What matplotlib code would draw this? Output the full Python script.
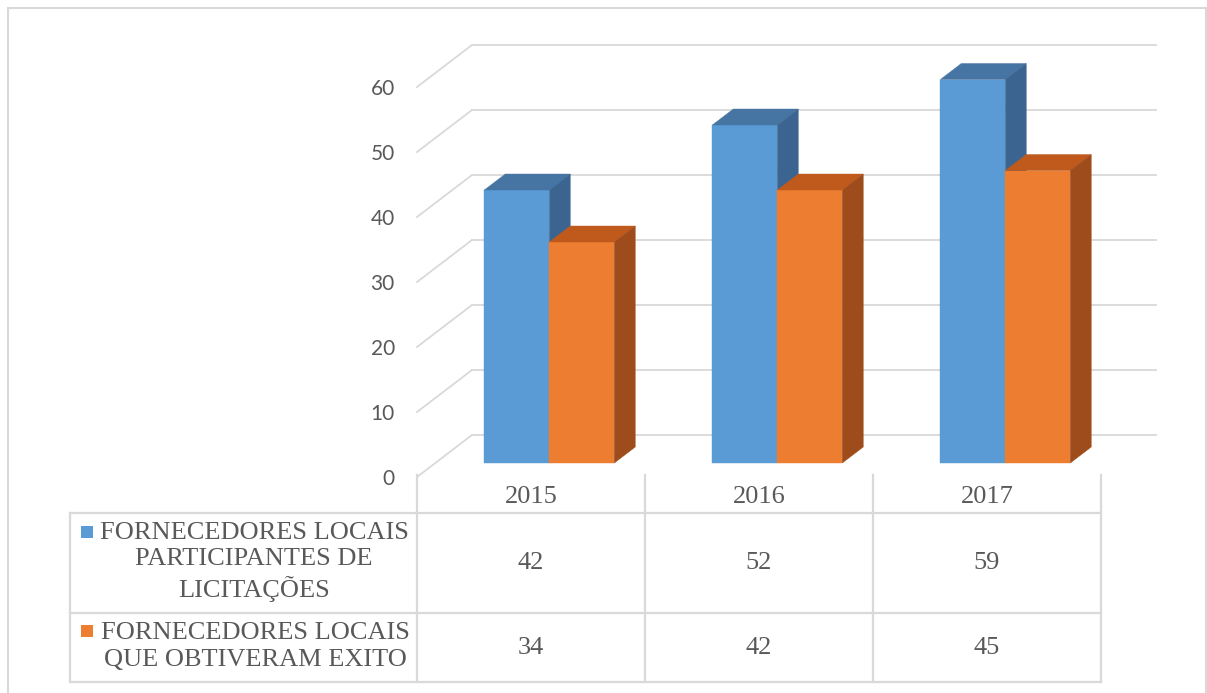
import numpy as np
import matplotlib.pyplot as plt
from matplotlib.patches import Polygon, Rectangle
from matplotlib.lines import Line2D

# dados
anos = ['2015', '2016', '2017']
participantes = [42, 52, 59]
exito = [34, 42, 45]
rotulos = ['FORNECEDORES LOCAIS\nPARTICIPANTES DE\nLICITAÇÕES',
           'FORNECEDORES LOCAIS\nQUE OBTIVERAM EXITO']
y_ticks = [0, 10, 20, 30, 40, 50, 60]

# cores (frente, topo, lado)
cores = [('#5B9BD5', '#4674A3', '#3B6590'),
         ('#ED7D31', '#BF5A1C', '#9E4C1B')]
cinza = '#D9D9D9'
texto = '#595959'

W, H = 1207, 693
fig = plt.figure(figsize=(W / 100, H / 100), dpi=100)

def fx(px):
    return px / W

def fy(py):
    return 1 - py / H

# eixo = plano frontal do grafico 3D
ax = fig.add_axes([fx(417), fy(477), 684 / W, 432 / H])
ax.set_xlim(0, 3)
ax.set_ylim(0, 432 / 6.5)
for s in ax.spines.values():
    s.set_visible(False)
ax.set_xticks([])
ax.set_yticks(y_ticks)
ax.tick_params(axis='y', length=0, pad=16, labelsize=15, labelcolor=texto)
for t in ax.get_yticklabels():
    t.set_family('Lato')

# profundidade (em unidades de dados)
DX = 55 / 228
DY = 42 / 6.5

# grade: parede do fundo + linhas diagonais
for v in y_ticks:
    ax.plot([0, DX], [v, v + DY], color=cinza, lw=1.3, clip_on=False, zorder=1)
    ax.plot([DX, 3 + DX], [v + DY, v + DY], color=cinza, lw=1.3, clip_on=False, zorder=1)

# barras 3D
w = 0.285
f1, f2 = 0.333, 0.714
ddx, ddy = (f2 - f1) * DX, (f2 - f1) * DY
for i in range(len(anos)):
    for k, vals in enumerate([participantes, exito]):
        h = vals[i]
        x0 = i + 0.5 - w + k * w + f1 * DX
        y0 = f1 * DY
        frente, topo, lado = cores[k]
        z = 3 + i * 2 + k
        ax.bar(x0, h, width=w, bottom=y0, align='edge', color=frente,
               edgecolor=frente, lw=0.3, zorder=z, clip_on=False)
        ax.add_patch(Polygon([(x0, y0 + h), (x0 + w, y0 + h), (x0 + w + ddx, y0 + h + ddy),
                              (x0 + ddx, y0 + h + ddy)], closed=True, fc=topo, ec=topo,
                             lw=0.3, zorder=z, clip_on=False))
        ax.add_patch(Polygon([(x0 + w, y0), (x0 + w + ddx, y0 + ddy), (x0 + w + ddx, y0 + h + ddy),
                              (x0 + w, y0 + h)], closed=True, fc=lado, ec=lado,
                             lw=0.3, zorder=z, clip_on=False))

# tabela de dados
inv = fig.transFigure.inverted()
col = [inv.transform(ax.transData.transform((i, 0)))[0] for i in range(len(anos) + 1)]
linhas_y = [476, 513, 613, 682]
esq = fx(70)

def linha(xs, ys):
    fig.add_artist(Line2D(xs, ys, color=cinza, lw=1.6))

for c in col:
    linha([c, c], [fy(475), fy(682)])
linha([esq, esq], [fy(513), fy(682)])
for py in linhas_y[1:]:
    linha([esq, col[-1]], [fy(py), fy(py)])

serif = dict(family='Liberation Serif', fontsize=19, color=texto, ha='center', va='center')
centros_linha = [(linhas_y[1] + linhas_y[2]) / 2, (linhas_y[2] + linhas_y[3]) / 2]
for i, a in enumerate(anos):
    cx = (col[i] + col[i + 1]) / 2
    fig.text(cx, fy(497), a, **serif)
    fig.text(cx, fy(centros_linha[0]), str(participantes[i]), **serif)
    fig.text(cx, fy(centros_linha[1]), str(exito[i]), **serif)

fig.text(fx(254), fy(centros_linha[0] - 1), rotulos[0], linespacing=1.27, **serif)
fig.text(fx(255), fy(centros_linha[1] - 1), rotulos[1], linespacing=1.27, **serif)

# marcadores de legenda
for k, py in enumerate([526, 625]):
    fig.add_artist(Rectangle((fx(81), fy(py + 12)), 12 / W, 12 / H,
                             transform=fig.transFigure, fc=cores[k][0], ec='none'))

# moldura externa
fig.add_artist(Rectangle((fx(8), -0.05), fx(1198), fy(8) + 0.05,
                         transform=fig.transFigure, fill=False, ec=cinza, lw=1.5,
                         clip_on=False))

fig.savefig('out.png', dpi=100)
